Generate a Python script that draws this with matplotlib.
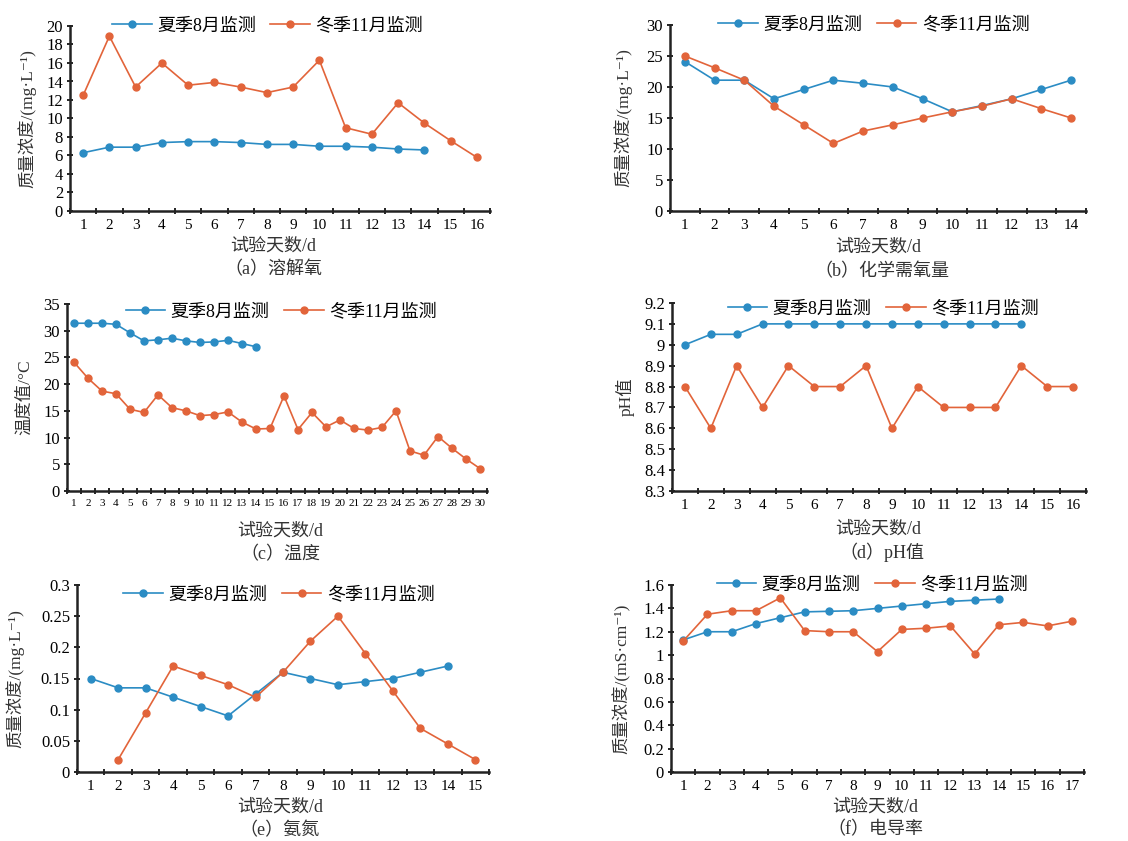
import numpy as np
import matplotlib

matplotlib.use("Agg")
import matplotlib.pyplot as plt  # noqa: E402
from matplotlib.ticker import FuncFormatter, MultipleLocator  # noqa: E402

plt.rcParams["font.family"] = ["Liberation Serif", "Noto Sans CJK SC", "DejaVu Sans"]

W, H = 1128, 841
SUMMER = "夏季8月监测"
WINTER = "冬季11月监测"
C_SUMMER = "#2b8cc4"
C_WINTER = "#e2643a"

# (a) dissolved oxygen, mg/L
do_summer = [6.3, 6.9, 6.9, 7.4, 7.5, 7.5, 7.4, 7.2, 7.2, 7.0, 7.0, 6.9, 6.7, 6.6]
do_winter = [12.5, 18.9, 13.4, 16.0, 13.6, 13.9, 13.4, 12.8, 13.4, 16.3,
             9.0, 8.3, 11.7, 9.5, 7.6, 5.8]

# (b) chemical oxygen demand, mg/L
cod_summer = [24.1, 21.1, 21.1, 18.1, 19.6, 21.1, 20.6, 20.0, 18.1, 16.0,
              17.0, 18.1, 19.6, 21.1]
cod_winter = [25.0, 23.1, 21.1, 16.9, 13.9, 10.9, 12.9, 13.9, 15.0, 16.0,
              16.9, 18.1, 16.5, 15.0]

# (c) temperature, deg C
temp_summer = [31.4, 31.4, 31.4, 31.2, 29.6, 28.1, 28.3, 28.6, 28.1, 27.8,
               27.9, 28.2, 27.6, 27.0]
temp_winter = [24.1, 21.1, 18.7, 18.2, 15.3, 14.7, 18.0, 15.6, 15.0, 14.1,
               14.3, 14.8, 12.9, 11.6, 11.7, 17.8, 11.5, 14.7, 12.0, 13.3,
               11.7, 11.4, 11.9, 15.0, 7.5, 6.7, 10.2, 8.0, 6.0, 4.2]

# (d) pH
ph_summer = [9.0, 9.05, 9.05, 9.1, 9.1, 9.1, 9.1, 9.1, 9.1, 9.1, 9.1, 9.1, 9.1, 9.1]
ph_winter = [8.8, 8.6, 8.9, 8.7, 8.9, 8.8, 8.8, 8.9, 8.6, 8.8, 8.7, 8.7,
             8.7, 8.9, 8.8, 8.8]

# (e) ammonia nitrogen, mg/L (no winter reading on day 1)
nh_summer = [0.15, 0.135, 0.135, 0.12, 0.105, 0.09, 0.125, 0.16, 0.15, 0.14,
             0.145, 0.15, 0.16, 0.17]
nh_winter = [np.nan, 0.02, 0.095, 0.17, 0.155, 0.14, 0.12, 0.16, 0.21, 0.25,
             0.19, 0.13, 0.07, 0.045, 0.02]

# (f) conductivity, mS/cm
ec_summer = [1.13, 1.20, 1.20, 1.27, 1.32, 1.37, 1.375, 1.38, 1.40, 1.42,
             1.44, 1.46, 1.47, 1.48]
ec_winter = [1.12, 1.35, 1.38, 1.38, 1.49, 1.21, 1.20, 1.20, 1.03, 1.22,
             1.23, 1.25, 1.01, 1.26, 1.28, 1.25, 1.29]

XLABEL = "试验天数/d"


def fx(x):
    return x / W


def fy(y):
    return 1 - y / H


def num_fmt(v, _pos=None):
    return f"{round(v, 4):g}"


def panel(rect, summer, winter, n_days, ylim, ystep, ylabel, ylab_x,
          leg_xy, xlab_xy, caption, cap_xy, xt_size=11):
    left, top, right, bottom = rect
    ax = fig.add_axes([fx(left), fy(bottom), fx(right - left), (bottom - top) / H])
    ax.plot(np.arange(1, len(summer) + 1), summer, color=C_SUMMER, lw=1.2,
            marker="o", ms=5, label=SUMMER)
    ax.plot(np.arange(1, len(winter) + 1), winter, color=C_WINTER, lw=1.2,
            marker="o", ms=5, label=WINTER)
    ax.set_xlim(0.5, n_days + 0.5)
    ax.set_ylim(*ylim)
    ax.set_xticks(np.arange(1, n_days + 1))
    ax.set_xticklabels([str(i) for i in range(1, n_days + 1)], fontsize=xt_size)
    ax.set_xticks(np.arange(0.5, n_days + 1), minor=True)
    ax.tick_params(axis="x", which="major", length=0, pad=6)
    ax.tick_params(axis="x", which="minor", length=4, width=1.2, direction="inout")
    ax.yaxis.set_major_locator(MultipleLocator(ystep))
    ax.yaxis.set_major_formatter(FuncFormatter(num_fmt))
    ax.tick_params(axis="y", length=4, width=1.2, direction="inout",
                   labelsize=12, pad=3)
    for s in ("top", "right"):
        ax.spines[s].set_visible(False)
    for s in ("left", "bottom"):
        ax.spines[s].set_linewidth(1.8)
        ax.spines[s].set_color("#222222")
    ax.set_clip_on(False)
    ax.legend(loc="center", bbox_to_anchor=leg_xy, ncol=2, frameon=False,
              fontsize=13, handlelength=2.2, handletextpad=0.3, columnspacing=0.8)
    cy = (top + bottom) / 2
    fig.text(fx(ylab_x), fy(cy), ylabel, rotation=90, ha="center", va="center",
             fontsize=12.5, color="#333333")
    fig.text(fx(xlab_xy[0]), fy(xlab_xy[1]), XLABEL, ha="center", va="center",
             fontsize=13, color="#333333")
    fig.text(fx(cap_xy[0]), fy(cap_xy[1]), caption, ha="center", va="center",
             fontsize=13, color="#333333")
    return ax


fig = plt.figure(figsize=(W / 100, H / 100), dpi=100)

panel((70, 26, 490, 211), do_summer, do_winter, 16, (0, 20), 2,
      "质量浓度/(mg·L⁻¹)", 27, (0.47, 1.0), (273, 246), "（a）溶解氧", (273, 270))
panel((670, 25, 1086, 211), cod_summer, cod_winter, 14, (0, 30), 5,
      "质量浓度/(mg·L⁻¹)", 623, (0.49, 1.0), (878, 247), "（b）化学需氧量", (882, 272))
panel((67, 304, 487, 491), temp_summer, temp_winter, 30, (0, 35), 5,
      "温度值/°C", 25, (0.51, 0.957), (280, 531), "（c）温度", (280, 555), xt_size=8)
panel((672, 303, 1086, 491), ph_summer, ph_winter, 16, (8.3, 9.2), 0.1,
      "pH值", 625, (0.51, 0.968), (878, 529), "（d）pH值", (882, 552))
panel((77, 585, 489, 772), nh_summer, nh_winter, 15, (0, 0.3), 0.05,
      "质量浓度/(mg·L⁻¹)", 15, (0.49, 0.947), (280, 807), "（e）氨氮", (280, 831))
panel((671, 585, 1084, 772), ec_summer, ec_winter, 17, (0, 1.6), 0.2,
      "质量浓度/(mS·cm⁻¹)", 622, (0.487, 1.0), (875, 807), "（f）电导率", (875, 830))

fig.savefig("out.png", dpi=100)
